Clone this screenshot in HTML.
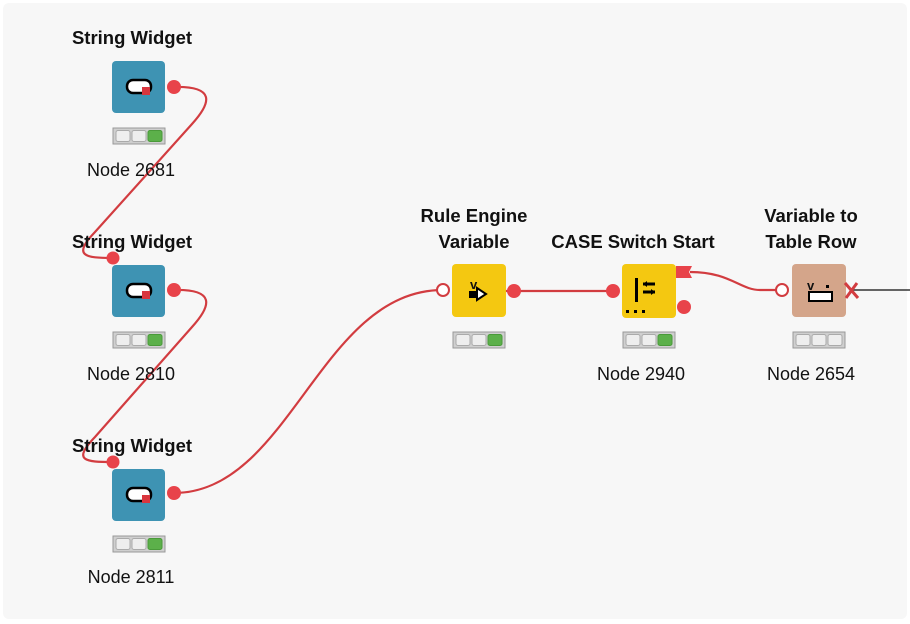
<!DOCTYPE html>
<html><head><meta charset="utf-8"><style>
html,body{margin:0;padding:0;background:#fff}
svg{display:block}
text{font-family:"Liberation Sans",Arial,sans-serif;font-size:18px;fill:#111}
.b{font-weight:bold;font-size:18.5px}
</style></head><body>
<svg width="910" height="624" viewBox="0 0 910 624" xmlns="http://www.w3.org/2000/svg">
<rect x="3" y="3" width="904" height="616" rx="6" fill="#f7f7f7"/>
<defs>
<g id="sw">
<rect x="0" y="0" width="53" height="52" rx="4" fill="#3e93b3"/>
<rect x="15" y="19" width="24" height="13" rx="6" fill="#fff" stroke="#000" stroke-width="2.5"/>
<rect x="30" y="26" width="8" height="8" fill="#d9363e"/>
</g>
<g id="st">
<rect x="0" y="0" width="52" height="16" fill="#cfcfcf" stroke="#999"/>
<rect x="3" y="2.5" width="14" height="11" rx="2" fill="#eee" stroke="#aaa"/>
<rect x="19" y="2.5" width="14" height="11" rx="2" fill="#eee" stroke="#aaa"/>
<rect x="35" y="2.5" width="14" height="11" rx="2" fill="#5cb04a" stroke="#4a9a3a"/>
</g>
<g id="st0">
<rect x="0" y="0" width="52" height="16" fill="#cfcfcf" stroke="#999"/>
<rect x="3" y="2.5" width="14" height="11" rx="2" fill="#eee" stroke="#aaa"/>
<rect x="19" y="2.5" width="14" height="11" rx="2" fill="#eee" stroke="#aaa"/>
<rect x="35" y="2.5" width="14" height="11" rx="2" fill="#eee" stroke="#aaa"/>
</g>
</defs>

<g fill="none" stroke="#d23c40" stroke-width="2.2">
<path d="M174,87 C215,86 212,102 192,124 L95,232 C72,256 85,258 113,258"/>
<path d="M174,290 C215,289 212,305 192,327 L95,437 C72,461 85,462 113,462"/>
<path d="M174,493 C290,493 320,290 443,290"/>
<path d="M505,291 L613,291"/>
<path d="M690,272 C730,272 740,290 760,290 L782,290"/>
</g>
<line x1="853" y1="290" x2="910" y2="290" stroke="#333" stroke-width="1.5"/>

<use href="#sw" x="112" y="61"/>
<use href="#sw" x="112" y="265"/>
<use href="#sw" x="112" y="469"/>
<use href="#st" x="113" y="128"/>
<use href="#st" x="113" y="332"/>
<use href="#st" x="113" y="536"/>
<g fill="#e8434a">
<circle cx="174" cy="87" r="7"/>
<circle cx="174" cy="290" r="7"/>
<circle cx="113" cy="258" r="6.5"/>
<circle cx="174" cy="493" r="7"/>
<circle cx="113" cy="462" r="6.5"/>
</g>
<text class="b" x="132" y="44" text-anchor="middle">String Widget</text>
<text class="b" x="132" y="248" text-anchor="middle">String Widget</text>
<text class="b" x="132" y="452" text-anchor="middle">String Widget</text>
<text x="131" y="176" text-anchor="middle">Node 2681</text>
<text x="131" y="380" text-anchor="middle">Node 2810</text>
<text x="131" y="583" text-anchor="middle">Node 2811</text>

<rect x="452" y="264" width="54" height="53" rx="4" fill="#f4c811"/>
<text x="470" y="289" style="font-size:13px;font-weight:bold">v</text>
<rect x="469" y="291" width="10" height="7" fill="#000"/>
<path d="M477,288 L486,294 L477,300 Z" fill="#fff" stroke="#000" stroke-width="2"/>
<circle cx="443" cy="290" r="6" fill="#fff" stroke="#d23c40" stroke-width="2"/>
<circle cx="514" cy="291" r="7" fill="#e8434a"/>
<use href="#st" x="453" y="332"/>
<text class="b" x="474" y="222" text-anchor="middle">Rule Engine</text>
<text class="b" x="474" y="248" text-anchor="middle">Variable</text>

<rect x="622" y="264" width="54" height="54" rx="4" fill="#f4c811"/>
<rect x="635" y="278" width="3" height="24" fill="#000"/>
<path d="M643,284 L655,284 M643,292 L655,292" stroke="#000" stroke-width="3"/>
<path d="M643,284 L647,281 L647,287 Z M655,292 L651,289 L651,295 Z" fill="#000"/>
<g fill="#000"><rect x="626" y="310" width="3" height="3"/><rect x="634" y="310" width="3" height="3"/><rect x="642" y="310" width="3" height="3"/></g>
<circle cx="613" cy="291" r="7" fill="#e8434a"/>
<path d="M676,266 L692,266 L689,272 L692,278 L676,278 Z" fill="#e8434a"/>
<circle cx="684" cy="307" r="7" fill="#e8434a"/>
<use href="#st" x="623" y="332"/>
<text class="b" x="633" y="248" text-anchor="middle">CASE Switch Start</text>
<text x="641" y="380" text-anchor="middle">Node 2940</text>

<rect x="792" y="264" width="54" height="53" rx="4" fill="#d4a58a"/>
<text x="807" y="290" style="font-size:13px;font-weight:bold">v</text>
<rect x="826" y="285" width="3" height="3" fill="#000"/>
<rect x="809" y="292" width="23" height="9" fill="#fff" stroke="#000" stroke-width="2"/>
<circle cx="782" cy="290" r="6" fill="#fff" stroke="#d23c40" stroke-width="2"/>
<path d="M845,283 L858,298 M857,283 L846,298" stroke="#d23c40" stroke-width="3"/>
<use href="#st0" x="793" y="332"/>
<text class="b" x="811" y="222" text-anchor="middle">Variable to</text>
<text class="b" x="811" y="248" text-anchor="middle">Table Row</text>
<text x="811" y="380" text-anchor="middle">Node 2654</text>
</svg>
</body></html>
